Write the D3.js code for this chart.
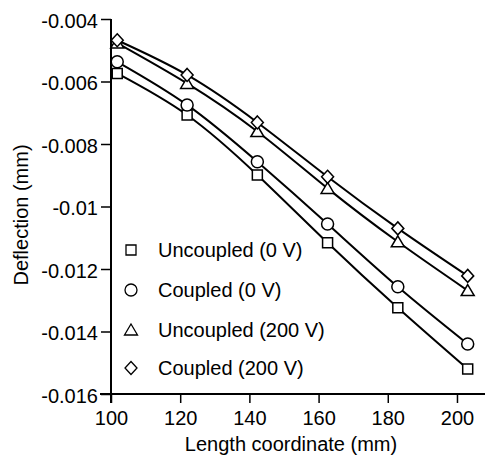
<!DOCTYPE html>
<html>
<head>
<meta charset="utf-8">
<script src="https://cdn.jsdelivr.net/npm/d3@7"></script>
<style>
  body { margin: 0; background: #fff; }
  text { font-family: "Liberation Sans", Arial, sans-serif; fill: #000; }
</style>
</head>
<body>
<script>
var width = 485, height = 457;

// length coordinate (mm)
var lengths = [101.8, 122.0, 142.3, 162.6, 182.9, 203.1];
var uncoupled0 = [-0.00574, -0.00707, -0.00899, -0.01116, -0.01324, -0.01520];
var coupled0 = [-0.00537, -0.00675, -0.00857, -0.01056, -0.01257, -0.01440];
var uncoupled200 = [-0.00477, -0.00606, -0.00760, -0.00942, -0.01113, -0.01269];
var coupled200 = [-0.00468, -0.00579, -0.00731, -0.00905, -0.01070, -0.01222];

var xTicks = [100, 120, 140, 160, 180, 200];
var yTicks = [-0.004, -0.006, -0.008, -0.01, -0.012, -0.014, -0.016];

var seriesNames = ["Uncoupled (0 V)", "Coupled (0 V)", "Uncoupled (200 V)", "Coupled (200 V)"];
var seriesValues = [uncoupled0, coupled0, uncoupled200, coupled200];
var seriesShapes = ["square", "circle", "triangle", "diamond"];

var svg = d3.select("body").append("svg")
  .attr("width", width)
  .attr("height", height);

var x = d3.scaleLinear().domain([100, 208.1]).range([111, 485]);
var y = d3.scaleLinear().domain([-0.016, -0.004]).range([394, 19]);

// axes
var xAxis = svg.append("g")
  .attr("transform", "translate(0," + y(-0.016) + ")")
  .call(d3.axisBottom(x).tickValues(xTicks).tickSize(9).tickPadding(8).tickFormat(d3.format("d")));
var yAxis = svg.append("g")
  .attr("transform", "translate(" + x(100) + ",0)")
  .call(d3.axisLeft(y).tickValues(yTicks).tickSize(10).tickPadding(3)
    .tickFormat(function(d) { return String(d); }));

[xAxis, yAxis].forEach(function(a) {
  a.select(".domain").attr("stroke-width", 2).attr("stroke", "#000");
  a.selectAll(".tick line").attr("stroke-width", 1.5).attr("stroke", "#000");
  a.selectAll(".tick text").style("font-size", "20px").attr("fill", "#000");
});
yAxis.selectAll(".tick text").attr("dy", "0.4em");
// plain domain lines without outer ticks
xAxis.select(".domain").attr("d", "M" + (x(100) - 11) + ",0H" + width);
yAxis.select(".domain").attr("d", "M0," + y(-0.004) + "V" + (y(-0.016) + 9));

// curves
var line = d3.line()
  .x(function(d, i) { return x(lengths[i]); })
  .y(function(d) { return y(d); })
  .curve(d3.curveNatural);

svg.append("g").selectAll("path")
  .data(seriesValues)
  .enter().append("path")
  .attr("d", line)
  .attr("fill", "none")
  .attr("stroke", "#000")
  .attr("stroke-width", 2);

function shapePath(shape) {
  if (shape == "square") return "M-5,-5H5V5H-5Z";
  if (shape == "circle") return "M6,0A6,6 0 1,1 -6,0A6,6 0 1,1 6,0Z";
  if (shape == "triangle") return "M0,-6L6.5,5H-6.5Z";
  return "M0,-6.5L6,0L0,6.5L-6,0Z";
}

seriesValues.forEach(function(vals, s) {
  svg.append("g").selectAll("path")
    .data(vals)
    .enter().append("path")
    .attr("d", shapePath(seriesShapes[s]))
    .attr("transform", function(d, i) { return "translate(" + x(lengths[i]) + "," + y(d) + ")"; })
    .attr("fill", "#fff")
    .attr("stroke", "#000")
    .attr("stroke-width", 1.5);
});

// legend
var legendY = [250, 290, 330, 368];
var legend = svg.append("g").selectAll("g")
  .data(seriesNames)
  .enter().append("g")
  .attr("transform", function(d, i) { return "translate(131," + legendY[i] + ")"; });
legend.append("path")
  .attr("d", function(d, i) { return shapePath(seriesShapes[i]); })
  .attr("fill", "#fff")
  .attr("stroke", "#000")
  .attr("stroke-width", 1.3);
legend.append("text")
  .attr("x", 27)
  .attr("dy", "0.36em")
  .style("font-size", "20px")
  .text(function(d) { return d; });

// axis titles
svg.append("text")
  .attr("x", 291)
  .attr("y", 451)
  .attr("text-anchor", "middle")
  .style("font-size", "20px")
  .text("Length coordinate (mm)");
svg.append("text")
  .attr("transform", "translate(28,215) rotate(-90)")
  .attr("text-anchor", "middle")
  .style("font-size", "20px")
  .text("Deflection (mm)");
</script>
</body>
</html>
